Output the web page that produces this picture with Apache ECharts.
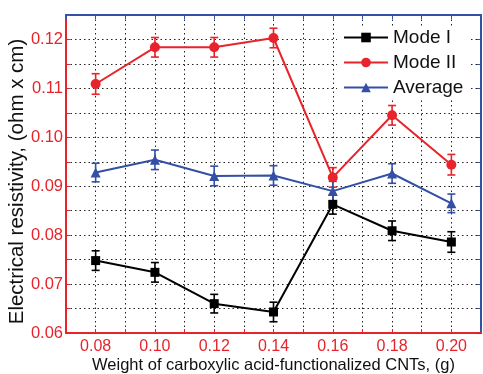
<!DOCTYPE html>
<html>
<head>
<meta charset="utf-8">
<script src="https://cdn.jsdelivr.net/npm/echarts@6/dist/echarts.min.js"></script>
<style>
  html, body { margin: 0; padding: 0; background: #fff; }
  #chart { width: 483px; height: 374px; }
</style>
</head>
<body>
<div id="chart"></div>
<script>
// data
var weights = [0.08, 0.10, 0.12, 0.14, 0.16, 0.18, 0.20];
var modeI = [0.0748, 0.0724, 0.0660, 0.0643, 0.0863, 0.0809, 0.0786];
var modeIErr = [0.0020, 0.0020, 0.0019, 0.0020, 0.0020, 0.0020, 0.0021];
var modeII = [0.1109, 0.1184, 0.1184, 0.1203, 0.0918, 0.1045, 0.0944];
var modeIIErr = [0.0021, 0.0020, 0.0020, 0.0020, 0.0020, 0.0020, 0.0021];
var average = [0.0928, 0.0954, 0.0921, 0.0922, 0.0890, 0.0926, 0.0865];
var averageErr = [0.0019, 0.0020, 0.0020, 0.0020, 0.0020, 0.0020, 0.0019];

var RED = '#e8232b', BLUE = '#3450a6', BLACK = '#000000';
var FONT = 'Liberation Sans';

function pairs(vals) {
    return weights.map(function (w, i) { return [w, vals[i]]; });
}
function errData(vals, errs) {
    return weights.map(function (w, i) { return [w, vals[i] - errs[i], vals[i] + errs[i]]; });
}
function errSeries(vals, errs, color) {
    return {
        type: 'custom',
        data: errData(vals, errs),
        z: 3,
        renderItem: function (params, api) {
            var lo = api.coord([api.value(0), api.value(1)]);
            var hi = api.coord([api.value(0), api.value(2)]);
            var hw = 4;
            var st = { stroke: color, lineWidth: 1.6 };
            return {
                type: 'group',
                children: [
                    { type: 'line', shape: { x1: lo[0], y1: lo[1], x2: hi[0], y2: hi[1] }, style: st },
                    { type: 'line', shape: { x1: lo[0] - hw, y1: lo[1], x2: lo[0] + hw, y2: lo[1] }, style: st },
                    { type: 'line', shape: { x1: hi[0] - hw, y1: hi[1], x2: hi[0] + hw, y2: hi[1] }, style: st }
                ]
            };
        }
    };
}

var chart = echarts.init(document.getElementById('chart'));
var dotted = { show: true, lineStyle: { color: '#222', type: [1.5, 3], width: 1 } };

var option = {
    animation: false,
    textStyle: { fontFamily: FONT },
    grid: { left: 66, right: 2, top: 15, bottom: 41, outerBoundsMode: 'none', containLabel: false },
    legend: {
        data: ['Mode I', 'Mode II', 'Average'],
        orient: 'vertical',
        left: 337,
        top: 26,
        itemWidth: 44,
        itemHeight: 12,
        itemGap: 6,
        backgroundColor: '#fff',
        padding: [2, 6, 2, 6],
        textStyle: { fontSize: 19, lineHeight: 19, color: '#111', fontFamily: FONT }
    },
    xAxis: [{
        type: 'value', min: 0.07, max: 0.21, interval: 0.01,
        name: 'Weight of carboxylic acid-functionalized CNTs, (g)',
        nameLocation: 'middle', nameGap: 24, nameMoveOverlap: false,
        nameTextStyle: { fontSize: 16.5, color: '#111', fontFamily: FONT },
        axisLine: { lineStyle: { color: RED, width: 2 } },
        axisTick: { inside: true, length: 4, lineStyle: { color: RED } },
        axisLabel: {
            color: RED, fontSize: 16, margin: 6,
            formatter: function (v) {
                var k = Math.round(v * 100);
                return (k % 2 === 0 && k > 7 && k < 21) ? v.toFixed(2) : '';
            }
        },
        splitLine: dotted
    }, {
        type: 'value', position: 'top', min: 0.07, max: 0.21, interval: 0.01,
        axisLine: { show: true, lineStyle: { color: BLUE, width: 2 } },
        axisTick: { show: true, inside: true, length: 4, lineStyle: { color: BLUE } },
        axisLabel: { show: false },
        splitLine: { show: false }
    }],
    yAxis: [{
        type: 'value', min: 0.06, max: 0.125, interval: 0.005,
        name: 'Electrical resistivity, (ohm x cm)',
        nameLocation: 'middle', nameGap: 38, nameMoveOverlap: false,
        nameTextStyle: { fontSize: 20.5, color: '#111', fontFamily: FONT, padding: [0, 15, 0, 0] },
        axisLine: { show: true, lineStyle: { color: RED, width: 2 } },
        axisTick: { show: true, inside: true, length: 4, lineStyle: { color: RED } },
        axisLabel: {
            color: RED, fontSize: 16.5, margin: 3,
            formatter: function (v) {
                var k = Math.round(v * 1000);
                return (k % 10 === 0) ? v.toFixed(2) : '';
            }
        },
        splitLine: dotted
    }, {
        type: 'value', position: 'right', min: 0.06, max: 0.125, interval: 0.005,
        axisLine: { show: true, lineStyle: { color: BLUE, width: 2 } },
        axisTick: { show: true, inside: true, length: 4, lineStyle: { color: BLUE } },
        axisLabel: { show: false },
        splitLine: { show: false }
    }],
    series: [
        errSeries(modeI, modeIErr, BLACK),
        errSeries(modeII, modeIIErr, RED),
        errSeries(average, averageErr, BLUE),
        {
            name: 'Mode I', type: 'line', data: pairs(modeI), z: 4,
            symbol: 'rect', symbolSize: 9,
            lineStyle: { color: BLACK, width: 2 }, itemStyle: { color: BLACK }
        },
        {
            name: 'Mode II', type: 'line', data: pairs(modeII), z: 4,
            symbol: 'circle', symbolSize: 10,
            lineStyle: { color: RED, width: 2 }, itemStyle: { color: RED }
        },
        {
            name: 'Average', type: 'line', data: pairs(average), z: 4,
            symbol: 'triangle', symbolSize: 10,
            lineStyle: { color: BLUE, width: 2 }, itemStyle: { color: BLUE }
        }
    ]
};
chart.setOption(option);
</script>
</body>
</html>
